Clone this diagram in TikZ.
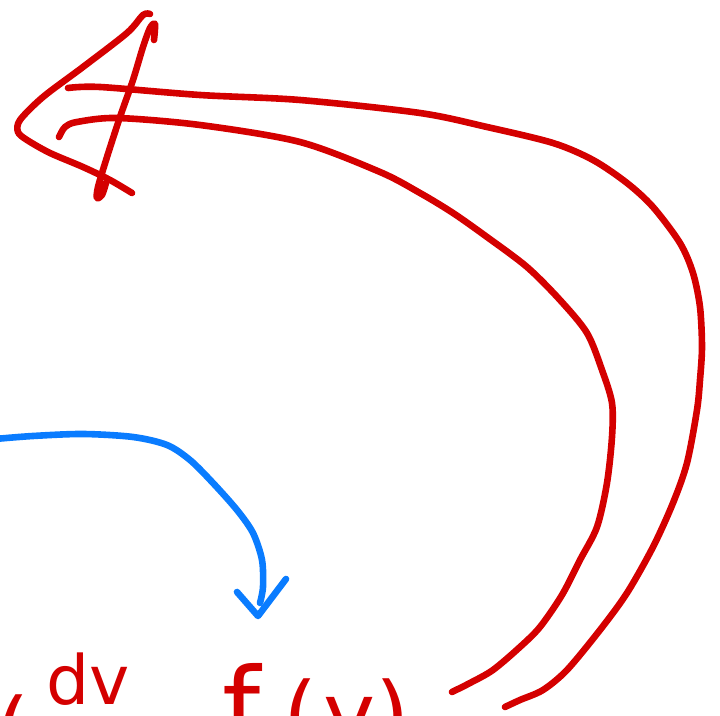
\documentclass[tikz,border=0pt]{standalone}
\usepackage{fontspec}
\newfontfamily\scrawlfont{DejaVu Sans}
\usepackage{tikz}
\definecolor{inkRed}{HTML}{D40000}
\definecolor{inkBlue}{HTML}{0A7CFF}

\begin{document}
\begin{tikzpicture}[x=0.5pt,y=-0.5pt,
        ink/.style={line width=3.3pt, line cap=round, line join=round},
        redink/.style={ink, draw=inkRed},
        blueink/.style={ink, draw=inkBlue},
        scrawl/.style={text=inkRed, inner sep=0pt, anchor=base west,
                       font=\scrawlfont\fontsize{44}{50}\selectfont}
    ]
        \useasboundingbox (0,0) rectangle (720,716);
        \clip (0,0) rectangle (720,716);

        % the formula, cut off by the lower edge
        \node[scrawl] (lparen) at (-5,762) {(};
        \node[scrawl, font=\scrawlfont\fontsize{34}{40}\selectfont] (numer) at (46,705) {dv};
        \node[scrawl, font=\scrawlfont\fontsize{30}{36}\selectfont] (eqsign) at (170,747) {=};
        \node[scrawl, font=\scrawlfont\fontsize{54}{60}\selectfont] (fsym) at (222,746) {f};
        \node[scrawl] (rhs) at (283,746) {(\hspace{3pt}y)};

        % big red return arrow
        \draw[redink] plot[smooth] coordinates {(68,88) (100,87) (200,95) (300,100) (420,113)
            (487,127) (553,143) (593,160) (627,183) (653,207) (680,243) (693,273) (700,307)
            (702,347) (700,380) (697,410) (687,463) (673,503) (653,547) (627,593) (600,630)
            (567,670) (543,690) (520,700) (505,707)};
        \draw[redink] plot[smooth] coordinates {(59,137) (65,127) (77,122) (117,118) (200,125)
            (300,142) (380,172) (420,193) (453,213) (487,237) (527,267) (560,300) (587,333)
            (602,370) (612,403) (612,437) (607,483) (597,527) (580,560) (562,595) (540,627)
            (520,647) (493,670) (470,683) (452,692)};
        \draw[redink] plot[smooth] coordinates {(150,14) (143,15) (127,33) (83,67) (43,97)
            (20,120) (18,132) (27,140) (50,153) (83,167) (110,180) (132,193)};
        \draw[redink] plot[smooth] coordinates {(154,40) (155,24) (150,28) (143,47) (133,80)
            (120,117) (107,157) (98,187) (97,198) (102,195) (106,183)};

        % blue arrow down to f
        \draw[blueink] plot[smooth] coordinates {(-5,439) (33,436) (83,434) (133,437) (167,445)
            (190,460) (213,483) (237,510) (253,533) (262,560) (263,587) (260,603)};
        \draw[blueink] (237,592) -- (258,616) -- (286,579);
\end{tikzpicture}
\end{document}
